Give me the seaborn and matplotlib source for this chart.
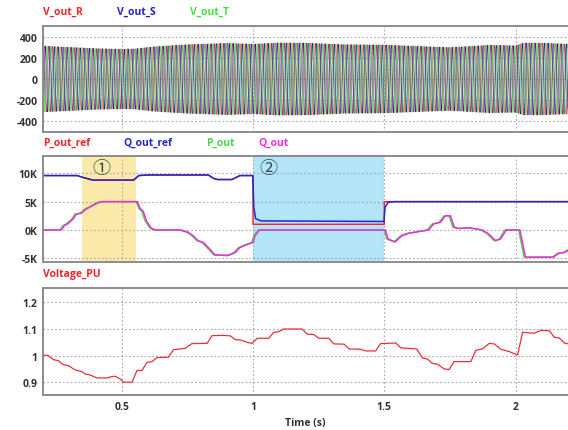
"""Three-panel inverter response: phase voltages, P/Q tracking, voltage in p.u."""
import numpy as np
import pandas as pd
import matplotlib
matplotlib.use("Agg")
import matplotlib.pyplot as plt
import seaborn as sns

# ---- top panel: peak envelope of the phase voltages (V), 60 Hz carrier ----
env_t = [0.2, 0.3, 0.4, 0.5, 0.55, 0.62, 0.75, 0.9, 1.0, 1.1, 1.2, 1.35, 1.5, 1.6, 1.75, 1.9, 2.0, 2.03, 2.1, 2.2]
env_amp = [312, 300, 288, 282, 285, 305, 325, 338, 330, 342, 340, 325, 322, 312, 298, 320, 315, 340, 340, 330]
f_grid = 60.0
phase_names = ["V_out_R", "V_out_S", "V_out_T"]
phase_shift = [0.0, -2 * np.pi / 3, 2 * np.pi / 3]

# ---- middle panel: powers in K ----
qref_t = [0.2, 0.33, 0.35, 0.39, 0.545, 0.565, 0.6, 0.83, 0.85, 0.865, 0.92, 0.95, 0.999,
          1.003, 1.01, 1.03, 1.499, 1.503, 1.515, 1.54, 2.2]
qref_k = [9.6, 9.6, 9.3, 8.8, 8.8, 9.6, 9.7, 9.7, 9.1, 8.9, 8.9, 9.6, 9.6,
          4.0, 2.0, 1.6, 1.5, 4.0, 4.9, 5.0, 5.0]
pref_t = [0.2, 0.33, 0.35, 0.39, 0.545, 0.565, 0.6, 0.83, 0.85, 0.865, 0.92, 0.95, 1.0,
          1.0, 1.5, 1.5, 2.2]
pref_k = [9.6, 9.6, 9.3, 8.8, 8.8, 9.6, 9.7, 9.7, 9.1, 8.9, 8.9, 9.6, 9.6,
          1.0, 1.0, 5.0, 5.0]
pq_t = [0.2, 0.265, 0.276, 0.29, 0.31, 0.322, 0.341, 0.36, 0.373, 0.405, 0.42, 0.555, 0.565,
        0.577, 0.589, 0.608, 0.625, 0.72, 0.748, 0.767, 0.786, 0.806, 0.831, 0.85, 0.901,
        0.927, 0.945, 0.977, 0.996, 1.003, 1.02, 1.499, 1.51, 1.537, 1.563, 1.588, 1.664,
        1.683, 1.709, 1.728, 1.747, 1.762, 1.78, 1.817, 1.868, 1.893, 1.919, 1.938, 1.96,
        2.012, 2.033, 2.14, 2.16, 2.18, 2.2]
pq_k = [0.0, 0.0, 0.76, 1.1, 1.94, 2.8, 2.95, 3.7, 4.0, 4.8, 5.0, 5.0, 3.8,
        3.3, 1.6, 0.3, 0.0, 0.0, -0.4, -1.0, -1.9, -2.2, -3.4, -4.4, -4.5,
        -4.0, -3.1, -2.5, -2.2, -1.0, 0.0, 0.0, -1.6, -2.1, -1.0, -0.6, 0.0,
        1.06, 1.35, 2.5, 2.5, 0.5, 0.25, 0.4, 0.0, -0.7, -1.9, -1.6, 0.0,
        0.0, -4.8, -4.8, -4.1, -4.0, -3.5]
q_lag = 0.005

# ---- bottom panel: voltage in p.u. ----
vpu_t = [0.2, 0.22, 0.239, 0.258, 0.277, 0.297, 0.322, 0.348, 0.36, 0.379, 0.405, 0.443, 0.462,
         0.475, 0.494, 0.507, 0.539, 0.558, 0.577, 0.596, 0.615, 0.634, 0.678, 0.697, 0.723,
         0.742, 0.767, 0.825, 0.844, 0.888, 0.914, 0.933, 0.952, 0.977, 0.996, 1.016, 1.06,
         1.079, 1.098, 1.117, 1.187, 1.206, 1.232, 1.251, 1.289, 1.308, 1.347, 1.366, 1.41,
         1.43, 1.467, 1.486, 1.544, 1.563, 1.624, 1.645, 1.664, 1.683, 1.703, 1.728, 1.747,
         1.766, 1.83, 1.849, 1.874, 1.9, 1.919, 1.944, 1.976, 2.008, 2.027, 2.072, 2.097,
         2.129, 2.148, 2.167, 2.186, 2.2]
vpu = [1.0025, 1.0, 0.985, 0.981, 0.966, 0.9625, 0.946, 0.94, 0.931, 0.9275, 0.916, 0.916, 0.921,
       0.9225, 0.9125, 0.9, 0.9, 0.944, 0.944, 0.975, 0.977, 0.9925, 0.994, 1.0225, 1.025,
       1.0275, 1.045, 1.046, 1.075, 1.076, 1.074, 1.06, 1.059, 1.05, 1.046, 1.065, 1.065,
       1.0875, 1.09, 1.1, 1.1, 1.081, 1.079, 1.065, 1.065, 1.044, 1.043, 1.025, 1.024,
       1.0175, 1.0175, 1.045, 1.0475, 1.029, 1.025, 0.991, 0.9875, 0.971, 0.9675, 0.95, 0.9475,
       0.9775, 0.9775, 1.02, 1.025, 1.046, 1.044, 1.024, 1.015, 1.0025, 1.0875, 1.084, 1.095,
       1.093, 1.069, 1.066, 1.0475, 1.044]

# shaded event windows
win1 = (0.35, 0.555)
win2 = (1.0, 1.5)

sns.set_style("white")
plt.rcParams["font.family"] = ["Open Sans", "DejaVu Sans"]

W, H = 568, 431
fig = plt.figure(figsize=(W / 100, H / 100), dpi=100)

def px_axes(top, bottom):
    return fig.add_axes([43 / W, 1 - bottom / H, 1 - 43 / W, (bottom - top) / H])

ax1 = px_axes(27, 133)
ax2 = px_axes(157, 263)
ax3 = px_axes(289, 396)

tick_col = "#333333"

# ---- top ----
t = np.arange(0.2, 2.2, 1e-4)
amp = np.interp(t, env_t, env_amp)
wave = pd.DataFrame({"t": t})
colors_v = ["#e8262c", "#2222c8", "#44e044"]
for name, ph, c in zip(phase_names, phase_shift, colors_v):
    wave[name] = amp * np.sin(2 * np.pi * f_grid * t + ph)
    sns.lineplot(data=wave, x="t", y=name, ax=ax1, color=c, linewidth=0.45,
                 estimator=None, sort=False)
ax1.set_ylim(-500, 500)
ax1.set_yticks([400, 200, 0, -200, -400])
ax1.set_yticklabels(["400", "200", "0", "-200", "-400"])

# ---- middle ----
ax2.axvspan(*win1, color="#fbe9aa", zorder=0.5, lw=0)
ax2.axvspan(*win2, color="#b3e4f8", zorder=0.5, lw=0)
pq = pd.DataFrame({"t": pq_t, "P_out": pq_k})
pq["t_q"] = pq["t"] + q_lag
sns.lineplot(x=pref_t, y=pref_k, ax=ax2, color="#e8262c", linewidth=1.0, estimator=None, sort=False)
sns.lineplot(x=qref_t, y=qref_k, ax=ax2, color="#2525cc", linewidth=1.1, estimator=None, sort=False)
sns.lineplot(data=pq, x="t", y="P_out", ax=ax2, color="#44d844", linewidth=1.1, estimator=None, sort=False)
sns.lineplot(data=pq, x="t_q", y="P_out", ax=ax2, color="#ee2ee0", linewidth=1.1, estimator=None, sort=False)
ax2.set_ylim(-5.65, 13.05)
ax2.set_yticks([10, 5, 0, -5])
ax2.set_yticklabels(["10K", "5K", "0K", "-5K"])
for x0, s in ((0.424, "\u2460"), (1.058, "\u2461")):
    ax2.text(x0, 11.0, s, ha="center", va="center", fontsize=13, color="#2e4a5c",
             family=["Noto Sans CJK KR", "DejaVu Sans"])

# ---- bottom ----
sns.lineplot(x=vpu_t, y=vpu, ax=ax3, color="#e8303a", linewidth=0.9, estimator=None, sort=False)
ax3.set_ylim(0.852, 1.254)
ax3.set_yticks([1.2, 1.1, 1.0, 0.9])
ax3.set_yticklabels(["1.2", "1.1", "1", "0.9"])

for ax in (ax1, ax2, ax3):
    ax.set_xlim(0.2, 2.2)
    ax.set_xticks([0.5, 1, 1.5, 2])
    ax.grid(True, linestyle=(0, (1.5, 2)), color="#a8a8a8", linewidth=0.8)
    ax.set_axisbelow(True)
    for s in ("top", "left", "bottom"):
        ax.spines[s].set_color("#8c8c8c")
        ax.spines[s].set_linewidth(1.4)
    ax.spines["right"].set_visible(False)
    ax.tick_params(length=0, labelsize=7.5, colors=tick_col, pad=4)
    for lab in ax.get_yticklabels() + ax.get_xticklabels():
        lab.set_fontweight("bold")
    ax.set_xlabel(""); ax.set_ylabel("")
ax1.set_xticklabels([])
ax2.set_xticklabels([])
ax3.set_xticklabels(["0.5", "1", "1.5", "2"], fontweight="bold")
ax3.set_xlabel("Time (s)", fontsize=7.5, fontweight="bold", color=tick_col, labelpad=4)

# ---- channel labels ----
def label(x, y, s, c):
    fig.text(x / W, 1 - y / H, s, color=c, fontsize=7.5, fontweight="bold", ha="left", va="center")

for x, s, c in zip((43, 117, 190), phase_names, colors_v):
    label(x, 12, s, c)
for x, s, c in zip((43, 123, 206, 258), ("P_out_ref", "Q_out_ref", "P_out", "Q_out"),
                   ("#e8262c", "#2525cc", "#44d844", "#ee2ee0")):
    label(x, 143, s, c)
label(43, 275, "Voltage_PU", "#e8262c")

fig.savefig("out.png", dpi=100)
